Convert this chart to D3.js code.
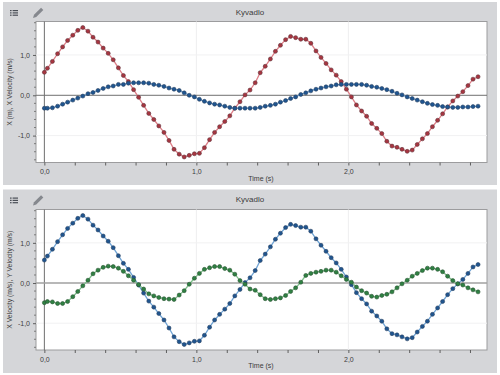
<!DOCTYPE html>
<html>
<head>
<meta charset="utf-8">
<script src="https://cdn.jsdelivr.net/npm/d3@7"></script>
<style>
    html, body { margin: 0; padding: 0; background: #fff; }
    text { font-family: "Liberation Sans", Arial, sans-serif; fill: #3c3c3c; }
</style>
</head>
<body>
<svg id="chart" width="500" height="375"></svg>
<script>
const times = [0, 0.02, 0.053, 0.087, 0.12, 0.153, 0.187, 0.22, 0.253, 0.287, 0.32, 0.353, 0.387, 0.42, 0.453, 0.487, 0.52, 0.553, 0.587, 0.62, 0.653, 0.687, 0.72, 0.753, 0.787, 0.82, 0.853, 0.887, 0.92, 0.953, 0.987, 1.02, 1.053, 1.087, 1.12, 1.153, 1.187, 1.22, 1.253, 1.287, 1.32, 1.353, 1.387, 1.42, 1.453, 1.487, 1.52, 1.553, 1.587, 1.62, 1.653, 1.687, 1.72, 1.753, 1.787, 1.82, 1.853, 1.887, 1.92, 1.953, 1.987, 2.02, 2.053, 2.087, 2.12, 2.153, 2.187, 2.22, 2.253, 2.287, 2.32, 2.353, 2.387, 2.42, 2.453, 2.487, 2.52, 2.553, 2.587, 2.62, 2.653, 2.687, 2.72, 2.753, 2.787, 2.82, 2.853];

const xVelocity = [0.57, 0.67, 0.84, 1.03, 1.20, 1.36, 1.49, 1.61, 1.68, 1.59, 1.44, 1.32, 1.17, 1.04, 0.88, 0.68, 0.49, 0.34, 0.14, -0.05, -0.25, -0.45, -0.60, -0.76, -0.92, -1.12,
    -1.34, -1.46, -1.53, -1.49, -1.45, -1.44, -1.30, -1.10, -0.92, -0.78, -0.65, -0.51, -0.32, -0.16, 0.01, 0.13, 0.31, 0.56, 0.72, 0.90, 1.09, 1.24, 1.38, 1.46, 1.43, 1.39, 1.39, 1.29, 1.10, 0.94, 0.79, 0.63,
    0.50, 0.34, 0.15, -0.04, -0.24, -0.39, -0.52, -0.70, -0.82, -0.95, -1.14, -1.26, -1.29, -1.34, -1.39, -1.36, -1.22, -1.08, -0.95, -0.78, -0.62, -0.46, -0.29, -0.14, -0.02, 0.09, 0.24, 0.40, 0.46];

const xPosition = [-0.32, -0.32, -0.31, -0.27, -0.22, -0.17, -0.12, -0.07, -0.02, 0.04, 0.07, 0.12, 0.17, 0.21, 0.23, 0.27, 0.27, 0.30, 0.31, 0.31, 0.31, 0.30, 0.27, 0.25, 0.22, 0.18,
    0.15, 0.12, 0.06, 0, -0.04, -0.10, -0.15, -0.19, -0.22, -0.24, -0.27, -0.30, -0.32, -0.32, -0.32, -0.32, -0.32, -0.30, -0.27, -0.25, -0.22, -0.17, -0.13, -0.08, -0.04, 0.02, 0.06, 0.11, 0.15, 0.18, 0.21, 0.23,
    0.26, 0.27, 0.27, 0.27, 0.27, 0.27, 0.25, 0.22, 0.20, 0.17, 0.14, 0.10, 0.05, 0.01, -0.04, -0.08, -0.12, -0.16, -0.20, -0.23, -0.25, -0.28, -0.29, -0.30, -0.30, -0.29, -0.29, -0.28, -0.27];

const yVelocity = [-0.49, -0.46, -0.47, -0.51, -0.51, -0.46, -0.34, -0.21, -0.07, 0.07, 0.23, 0.32, 0.39, 0.42, 0.41, 0.37, 0.29, 0.18, 0.07, -0.04, -0.15, -0.27, -0.32, -0.36, -0.39, -0.40,
    -0.41, -0.30, -0.19, -0.03, 0.12, 0.24, 0.34, 0.38, 0.41, 0.41, 0.36, 0.32, 0.22, 0.06, -0.03, -0.15, -0.18, -0.29, -0.39, -0.41, -0.39, -0.37, -0.31, -0.21, -0.12, 0.02, 0.19, 0.24, 0.27, 0.29, 0.32, 0.32,
    0.27, 0.18, 0.09, 0.02, -0.10, -0.19, -0.25, -0.33, -0.35, -0.31, -0.28, -0.22, -0.12, -0.02, 0.07, 0.17, 0.24, 0.31, 0.37, 0.37, 0.34, 0.28, 0.17, 0.06, -0.02, -0.05, -0.12, -0.17, -0.22];

const xMajor = [0, 1, 2];
const xMinor = [0.2, 0.4, 0.6, 0.8, 1.2, 1.4, 1.6, 1.8, 2.2, 2.4, 2.6, 2.8];
const yMajor = [-1, 0, 1];
const yMinor = [-1.6, -1.4, -1.2, -0.8, -0.6, -0.4, -0.2, 0.2, 0.4, 0.6, 0.8, 1.2, 1.4, 1.6, 1.8];
const fmt = d => d.toFixed(1).replace(".", ",");

const red = { line: "#dd7f88", dot: "#a83540", edge: "#5f343b" };
const blue = { line: "#6fa3d4", dot: "#1f5590", edge: "#2a4260" };
const green = { line: "#7fbf8b", dot: "#2f8143", edge: "#2a5233" };

const panels = [
    { top: 2, bottom: 185, plotTop: 21.5, plotBottom: 162.5, title: "Kyvadlo", yLabel: "X (m), X Velocity (m/s)",
      series: [{ values: xVelocity, color: red }, { values: xPosition, color: blue }], zeroColor: "#6f6f6f", zeroWidth: 1 },
    { top: 189.5, bottom: 373, plotTop: 209.5, plotBottom: 350, title: "Kyvadlo", yLabel: "X Velocity (m/s), Y Velocity (m/s)",
      series: [{ values: xVelocity, color: blue }, { values: yVelocity, color: green }], zeroColor: "#a0a0a0", zeroWidth: 1.4 }
];

const svg = d3.select("#chart");
const plotLeft = 36, plotRight = 487;

const xScale = d3.scaleLinear().domain([-0.055, 2.912]).range([plotLeft, plotRight]);

panels.forEach(p => {
    const g = svg.append("g");
    const yScale = d3.scaleLinear().domain([-1.667, 1.83]).range([p.plotBottom, p.plotTop]);

    g.append("rect").attr("x", 3).attr("y", p.top).attr("width", 494).attr("height", p.bottom - p.top).attr("fill", "#d5d6d9");
    g.append("rect").attr("x", plotLeft).attr("y", p.plotTop).attr("width", plotRight - plotLeft).attr("height", p.plotBottom - p.plotTop)
        .attr("fill", "#fff").attr("stroke", "#9c9c9e").attr("stroke-width", 1);

    // faint grid at the labelled ticks
    g.selectAll(".gx").data(xMajor.slice(1)).join("line")
        .attr("x1", d => xScale(d)).attr("x2", d => xScale(d))
        .attr("y1", p.plotTop).attr("y2", p.plotBottom).attr("stroke", "#eeeeef");
    g.selectAll(".gy").data(yMajor.filter(d => d !== 0)).join("line")
        .attr("x1", plotLeft).attr("x2", plotRight)
        .attr("y1", d => yScale(d)).attr("y2", d => yScale(d)).attr("stroke", "#f1f1f2");

    // zero lines
    g.append("line").attr("x1", xScale(0)).attr("x2", xScale(0)).attr("y1", p.plotTop).attr("y2", p.plotBottom).attr("stroke", "#6f6f6f");
    g.append("line").attr("x1", plotLeft).attr("x2", plotRight).attr("y1", yScale(0)).attr("y2", yScale(0))
        .attr("stroke", p.zeroColor).attr("stroke-width", p.zeroWidth);

    // axes
    const xAxis = g.append("g").attr("transform", `translate(0,${p.plotBottom})`)
        .call(d3.axisBottom(xScale).tickValues(xMajor.concat(xMinor)).tickSize(3).tickFormat(d => xMajor.includes(d) ? fmt(d) : ""));
    xAxis.select(".domain").remove();
    xAxis.selectAll("line").attr("stroke", "#5e5e5e");
    xAxis.selectAll("text").attr("font-size", 7).attr("dy", "0.85em");

    const yAxis = g.append("g").attr("transform", `translate(${plotLeft},0)`)
        .call(d3.axisLeft(yScale).tickValues(yMajor).tickSize(3).tickFormat(fmt));
    yAxis.select(".domain").remove();
    yAxis.selectAll("line").attr("stroke", "#5e5e5e");
    yAxis.selectAll("text").attr("font-size", 7);

    g.selectAll(".minor").data(yMinor).join("line")
        .attr("x1", plotLeft - 2).attr("x2", plotLeft)
        .attr("y1", d => yScale(d)).attr("y2", d => yScale(d)).attr("stroke", "#7a7a7a");

    // series
    p.series.forEach(s => {
        const line = d3.line().x((d, i) => xScale(times[i])).y(d => yScale(d));
        g.append("path").datum(s.values).attr("d", line).attr("fill", "none")
            .attr("stroke", s.color.line).attr("stroke-width", 1.3);
        g.append("g").selectAll("circle").data(s.values).join("circle")
            .attr("cx", (d, i) => xScale(times[i])).attr("cy", d => yScale(d)).attr("r", 2)
            .attr("fill", s.color.dot).attr("stroke", s.color.edge).attr("stroke-width", 0.6);
    });

    // labels
    g.append("text").attr("x", 250).attr("y", p.top + 12.5).attr("text-anchor", "middle").attr("font-size", 8).text(p.title);
    g.append("text").attr("x", 261).attr("y", p.plotBottom + 18).attr("text-anchor", "middle").attr("font-size", 7).text("Time (s)");
    g.append("text").attr("transform", `translate(11.5,${(p.plotTop + p.plotBottom) / 2}) rotate(-90)`)
        .attr("text-anchor", "middle").attr("font-size", 6.8).text(p.yLabel);

    // list icon
    const icon = g.append("g").attr("transform", `translate(10,${p.top + 8})`).attr("fill", "#4b4f57");
    [0, 1, 2].forEach(i => {
        icon.append("rect").attr("x", 0).attr("y", i * 2.3).attr("width", 1.6).attr("height", 1.2);
        icon.append("rect").attr("x", 2.6).attr("y", i * 2.3).attr("width", 5.4).attr("height", 1.2);
    });
    // pencil icon
    g.append("path").attr("transform", `translate(33,${p.top + 16}) rotate(-45)`)
        .attr("d", "M0,0 L3,-1.6 L13,-1.6 L13,1.6 L3,1.6 Z").attr("fill", "#85888e");
});
</script>
</body>
</html>
